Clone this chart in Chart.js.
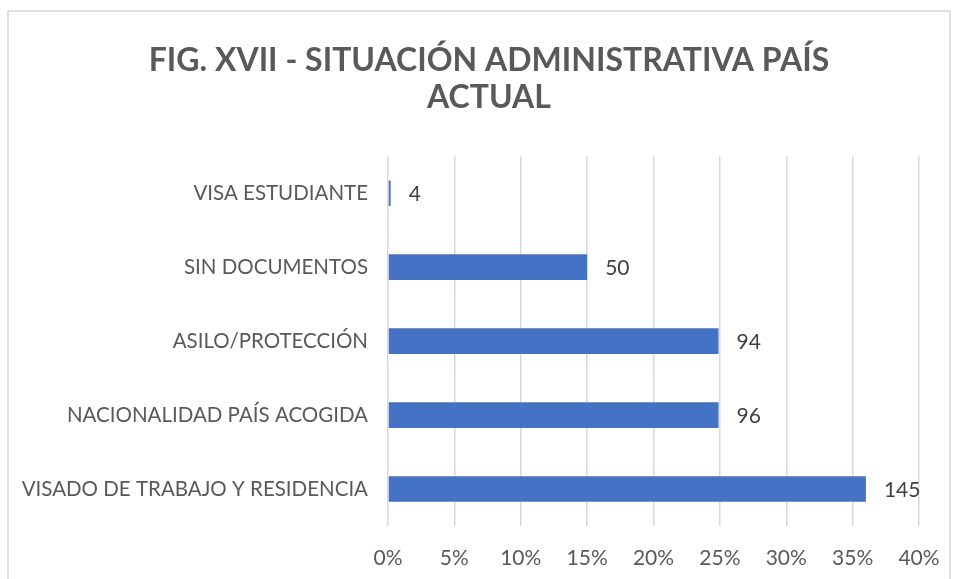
<!DOCTYPE html>
<html>
<head>
<meta charset="utf-8">
<script src="https://cdn.jsdelivr.net/npm/chart.js@4/dist/chart.umd.min.js"></script>
<style>
    body { margin: 0; background: #ffffff; overflow: hidden; }
    #marco {
        position: absolute;
        left: 7px;
        top: 10px;
        width: 940px;
        height: 600px;
        border: 2px solid #e0e0e0;
    }
    #grafico { position: absolute; left: 0; top: 0; }
</style>
</head>
<body>
<div id="marco"></div>
<canvas id="grafico" width="978" height="579"></canvas>
<script>

// categorias de arriba a abajo
var categorias = [
    'VISA ESTUDIANTE',
    'SIN DOCUMENTOS',
    'ASILO/PROTECCIÓN',
    'NACIONALIDAD PAÍS ACOGIDA',
    'VISADO DE TRABAJO Y RESIDENCIA'
];

// porcentaje (largo de la barra) y numero de personas (etiqueta)
var porcentajes = [0.2, 15, 24.9, 24.9, 36];
var personas = [4, 50, 94, 96, 145];

var ticksEjeX = [0, 5, 10, 15, 20, 25, 30, 35, 40];

var tituloGrafico = ['FIG. XVII - SITUACIÓN ADMINISTRATIVA PAÍS', 'ACTUAL'];

var colorBarra = '#4472C4';
var colorTexto = '#595959';

// dibuja el numero de personas al final de cada barra
var etiquetasBarras = {
    id: 'etiquetasBarras',
    afterDatasetsDraw: function (chart) {
        var ctx = chart.ctx;
        var meta = chart.getDatasetMeta(0);
        ctx.save();
        ctx.font = '21px Lato';
        ctx.fillStyle = '#404040';
        ctx.textAlign = 'left';
        ctx.textBaseline = 'middle';
        meta.data.forEach(function (barra, i) {
            ctx.fillText(String(personas[i]), barra.x + 18, barra.y + 1);
        });
        ctx.restore();
    }
};

function plotarGrafico() {

    var canvas = document.getElementById('grafico').getContext('2d');

    new Chart(canvas, {
        type: 'bar',
        data: {
            labels: categorias,
            datasets: [
                {
                    data: porcentajes,
                    backgroundColor: colorBarra,
                    borderWidth: 0,
                    categoryPercentage: 0.5,
                    barPercentage: 0.694,
                }
            ]
        },
        plugins: [etiquetasBarras],
        options: {
            indexAxis: 'y',
            responsive: false,
            animation: false,
            devicePixelRatio: 1,
            layout: {
                padding: { left: 0, right: 0, top: 12, bottom: 0 }
            },
            scales: {
                x: {
                    min: 0,
                    max: 40,
                    afterBuildTicks: function (scale) {
                        scale.ticks = ticksEjeX.map(function (v) { return { value: v }; });
                    },
                    afterFit: function (scale) {
                        scale.height = 53;
                        scale.paddingRight = 59;
                    },
                    border: { display: false },
                    grid: {
                        color: '#d9d9d9',
                        lineWidth: 1.5,
                        drawTicks: false,
                    },
                    ticks: {
                        padding: 20,
                        maxRotation: 0,
                        color: colorTexto,
                        font: { family: 'Lato', size: 21 },
                        callback: function (value) {
                            return value + '%';
                        }
                    }
                },
                y: {
                    border: { display: false },
                    grid: { display: false, drawTicks: false },
                    afterFit: function (scale) {
                        scale.width = 388;
                    },
                    ticks: {
                        padding: 20,
                        color: colorTexto,
                        font: { family: 'Lato', size: 20.5 },
                    }
                }
            },
            plugins: {
                legend: { display: false },
                tooltip: { enabled: false },
                title: {
                    display: true,
                    text: tituloGrafico,
                    color: colorTexto,
                    font: { family: 'Lato', size: 32, weight: 'bold', lineHeight: 1.16 },
                    padding: { top: 30, bottom: 40 }
                }
            }
        }
    });
}

plotarGrafico();
</script>
</body>
</html>
